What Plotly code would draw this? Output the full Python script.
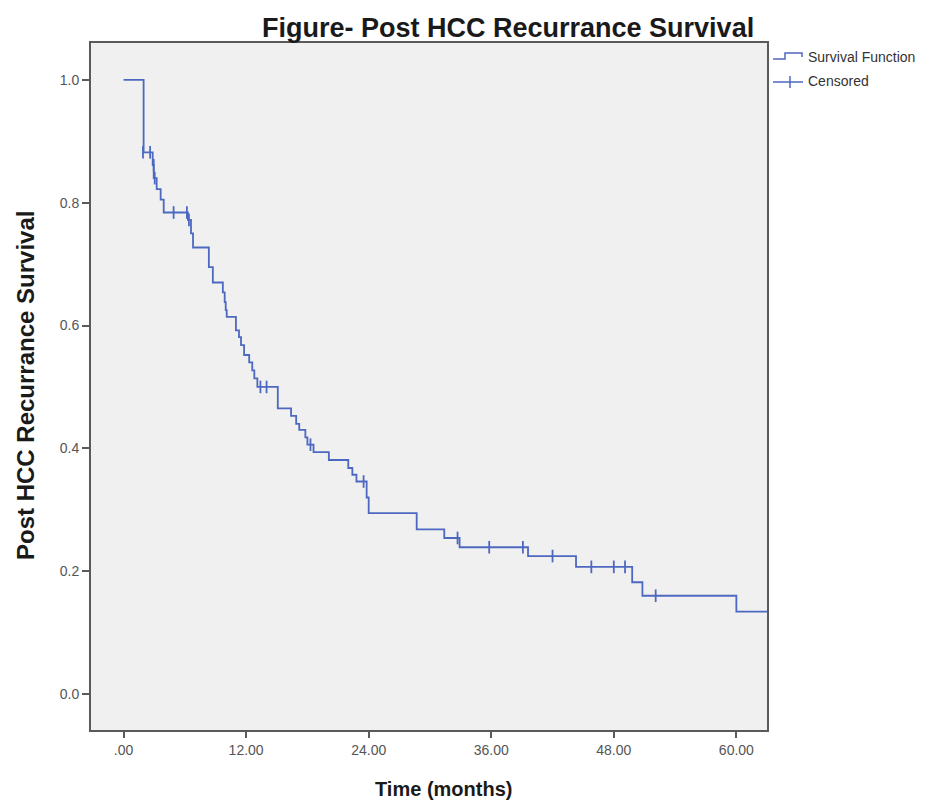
import plotly.graph_objects as go

# Kaplan-Meier step function (time in months, survival proportion)
step_time = [0, 1.96, 2.85, 2.95, 3.24, 3.63, 3.93, 6.3, 6.6, 6.8, 8.35, 8.74, 9.72, 9.9, 10.0,
             10.1, 11.0, 11.3, 11.5, 11.8, 12.3, 12.6, 12.8, 13.1, 15.1, 16.4, 16.9, 17.2, 17.8,
             18.0, 18.6, 20.1, 22.0, 22.4, 22.8, 23.8, 24.0, 28.7, 31.4, 32.9, 39.6, 44.3,
             49.8, 50.8, 60.0, 63.0]
step_surv = [1.0, 0.882, 0.861, 0.840, 0.822, 0.805, 0.784, 0.772, 0.750, 0.727, 0.695, 0.670,
             0.654, 0.638, 0.625, 0.614, 0.592, 0.581, 0.568, 0.552, 0.540, 0.527, 0.514, 0.500,
             0.465, 0.453, 0.440, 0.430, 0.418, 0.406, 0.394, 0.381, 0.368, 0.357, 0.346, 0.320,
             0.2945, 0.268, 0.254, 0.239, 0.2246, 0.207, 0.182, 0.160, 0.134, 0.134]

# Censored observations
cens_time = [1.9, 2.6, 2.95, 3.05, 4.9, 6.2, 6.4, 13.4, 14.0, 18.3, 23.5, 32.7, 35.8, 39.1,
             42.0, 45.8, 48.0, 49.1, 52.1]
cens_surv = [0.882, 0.882, 0.861, 0.840, 0.784, 0.784, 0.772, 0.500, 0.500, 0.406, 0.346,
             0.254, 0.239, 0.239, 0.2246, 0.207, 0.207, 0.207, 0.160]

x_tickvals = [0, 12, 24, 36, 48, 60]
x_ticktext = [".00", "12.00", "24.00", "36.00", "48.00", "60.00"]
y_tickvals = [0.0, 0.2, 0.4, 0.6, 0.8, 1.0]

BLUE = "#4d68c0"
OFF = 8  # page body margin
W, H = 950 - OFF, 803 - OFF
L, R, T, B = 91 - OFF, 183, 43 - OFF, 73
PW, PH = W - L - R, H - T - B


def px(x):
    return (x - OFF - L) / PW


def py(y):
    return (H - B - (y - OFF)) / PH


fig = go.Figure()
fig.add_trace(go.Scatter(x=step_time, y=step_surv, mode="lines", line_shape="hv",
                         line=dict(color=BLUE, width=1.8), showlegend=False,
                         hoverinfo="skip"))
fig.add_trace(go.Scatter(x=cens_time, y=cens_surv, mode="markers",
                         marker=dict(symbol="line-ns", size=9,
                                     line=dict(color=BLUE, width=1.8)),
                         showlegend=False))

shapes = []
# Legend: step icon
shapes.append(dict(type="path", xref="paper", yref="paper",
                   path=f"M {px(773)} {py(59)} L {px(785)} {py(59)} L {px(785)} {py(53)} "
                        f"L {px(802)} {py(53)} L {px(802)} {py(57)}",
                   line=dict(color=BLUE, width=1.5)))
# Legend: censored icon
shapes.append(dict(type="line", xref="paper", yref="paper", x0=px(773), x1=px(803),
                   y0=py(82), y1=py(82), line=dict(color=BLUE, width=1.5)))
shapes.append(dict(type="line", xref="paper", yref="paper", x0=px(790), x1=px(790),
                   y0=py(76), y1=py(88), line=dict(color=BLUE, width=1.5)))

FONT = "Liberation Sans, Arial"
annotations = [
    dict(text="Survival Function", xref="paper", yref="paper", x=px(806), y=py(57),
         xanchor="left", yanchor="middle", showarrow=False,
         font=dict(family=FONT, size=14, color="#333")),
    dict(text="Censored", xref="paper", yref="paper", x=px(806), y=py(81),
         xanchor="left", yanchor="middle", showarrow=False,
         font=dict(family=FONT, size=14, color="#333")),
    dict(text="<b>Figure- Post HCC Recurrance Survival</b>", xref="paper", yref="paper",
         x=px(508), y=py(28), xanchor="center", yanchor="middle", showarrow=False,
         font=dict(family=FONT, size=27, color="#1a1a1a")),
    dict(text="<b>Time (months)</b>", xref="paper", yref="paper",
         x=px(444), y=py(789), xanchor="center", yanchor="middle", showarrow=False,
         font=dict(family=FONT, size=20, color="#1a1a1a")),
    dict(text="<b>Post HCC Recurrance Survival</b>", xref="paper", yref="paper",
         x=px(25), y=py(386), xanchor="center", yanchor="middle", showarrow=False,
         textangle=-90,
         font=dict(family=FONT, size=24, color="#1a1a1a")),
]

fig.update_layout(
    width=W, height=H,
    margin=dict(l=L, r=R, t=T, b=B),
    paper_bgcolor="white",
    plot_bgcolor="#f0f0f0",
    shapes=shapes,
    annotations=annotations,
    showlegend=False,
    xaxis=dict(range=[-3.19, 63.0], tickvals=x_tickvals, ticktext=x_ticktext,
               showgrid=False, zeroline=False, showline=True, mirror=True,
               linecolor="#5a5a5a", linewidth=2, ticks="outside", ticklen=6,
               tickwidth=1.5, tickcolor="#5a5a5a",
               tickfont=dict(family=FONT, size=14, color="#555")),
    yaxis=dict(range=[-0.0586, 1.060], tickvals=y_tickvals, tickformat=".1f",
               showgrid=False, zeroline=False, showline=True, mirror=True,
               linecolor="#5a5a5a", linewidth=2, ticks="outside", ticklen=7,
               tickwidth=1.5, tickcolor="#5a5a5a",
               tickfont=dict(family=FONT, size=14, color="#555")),
)

fig.write_html("out.html")
